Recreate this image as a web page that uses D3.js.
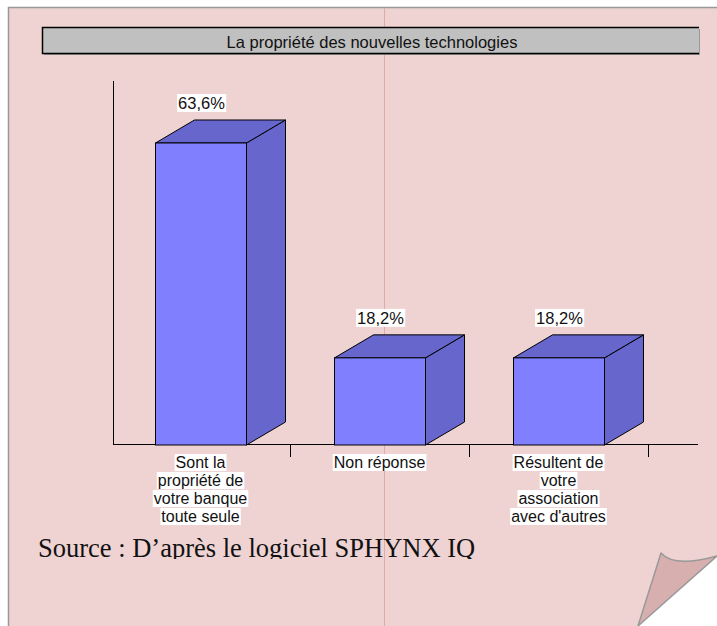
<!DOCTYPE html>
<html>
<head>
<meta charset="utf-8">
<script src="https://cdn.jsdelivr.net/npm/d3@7"></script>
<style>
  html, body { margin: 0; padding: 0; background: #fff; }
  svg { display: block; }
</style>
</head>
<body>
<script>
// chart data
const categories = [
  ["Sont la", "propriété de", "votre banque", "toute seule"],
  ["Non réponse"],
  ["Résultent de", "votre", "association", "avec d'autres"]
];
const values = [63.6, 18.2, 18.2];
const valueLabels = ["63,6%", "18,2%", "18,2%"];
const title = "La propriété des nouvelles technologies";
const source = "Source : D\u2019après le logiciel SPHYNX IQ";

const width = 717, height = 626;
const depthX = 39, depthY = -23;

const svg = d3.select("body").append("svg")
  .attr("width", width)
  .attr("height", height)
  .attr("font-family", "'Liberation Sans', Arial, sans-serif");

// page
svg.append("rect")
  .attr("x", 8).attr("y", 7)
  .attr("width", width - 8).attr("height", height - 7)
  .attr("fill", "#efd3d3");
svg.append("path")
  .attr("d", "M8.5," + height + "V7.5H" + width)
  .attr("fill", "none").attr("stroke", "#999").attr("stroke-width", 1.5);
svg.append("line")
  .attr("x1", 384.5).attr("x2", 384.5).attr("y1", 8).attr("y2", height)
  .attr("stroke", "#e2a9a9").attr("stroke-width", 1);

// title box
svg.append("rect")
  .attr("x", 44).attr("y", 29).attr("width", 656).attr("height", 26)
  .attr("fill", "#999");
svg.append("rect")
  .attr("x", 42).attr("y", 27).attr("width", 657).attr("height", 26)
  .attr("fill", "#c0c0c0");
svg.append("path")
  .attr("d", "M699,27.5H42.5V53.5H699")
  .attr("fill", "none").attr("stroke", "#000").attr("stroke-width", 1.5);
svg.append("text")
  .attr("x", 372).attr("y", 47.5)
  .attr("text-anchor", "middle")
  .attr("font-size", 16.5)
  .attr("fill", "#111")
  .text(title);

// scales
const x = d3.scaleBand()
  .domain(d3.range(values.length))
  .range([111, 648])
  .padding(0);

const y = d3.scaleLinear()
  .domain([0, 76.7])
  .range([444, 81]);

const barW = 91;

// axes
svg.append("line")
  .attr("x1", 113.5).attr("x2", 113.5)
  .attr("y1", y.range()[1]).attr("y2", y(0))
  .attr("stroke", "#000");
svg.append("line")
  .attr("x1", 113).attr("x2", 698)
  .attr("y1", y(0) + 0.5).attr("y2", y(0) + 0.5)
  .attr("stroke", "#000");
svg.selectAll(".tick")
  .data(d3.range(1, values.length + 1))
  .enter().append("line")
  .attr("x1", function(d) { return Math.round(x.range()[0] + d * x.bandwidth()) + 0.5; })
  .attr("x2", function(d) { return Math.round(x.range()[0] + d * x.bandwidth()) + 0.5; })
  .attr("y1", y(0)).attr("y2", y(0) + 13)
  .attr("stroke", "#000");

// 3d bars
const bar = svg.selectAll(".bar")
  .data(values)
  .enter().append("g")
  .attr("class", "bar");

function x0(i) { return Math.round(x(i) + x.bandwidth() / 2 - barW / 2) + 0.5; }

bar.append("path") // side
  .attr("d", function(d, i) {
    let a = x0(i) + barW, t = y(d), b = y(0) + 1;
    return "M" + a + "," + t + "L" + (a + depthX) + "," + (t + depthY) +
      "L" + (a + depthX) + "," + (b + depthY) + "L" + a + "," + b + "Z";
  })
  .attr("fill", "#6666cc").attr("stroke", "#000").attr("stroke-linejoin", "round");

bar.append("path") // top
  .attr("d", function(d, i) {
    let l = x0(i), t = y(d);
    return "M" + l + "," + t + "L" + (l + depthX) + "," + (t + depthY) +
      "L" + (l + barW + depthX) + "," + (t + depthY) + "L" + (l + barW) + "," + t + "Z";
  })
  .attr("fill", "#6666cc").attr("stroke", "#000").attr("stroke-linejoin", "round");

bar.append("rect") // front
  .attr("x", function(d, i) { return x0(i); })
  .attr("y", function(d) { return y(d); })
  .attr("width", barW)
  .attr("height", function(d) { return y(0) + 1 - y(d); })
  .attr("fill", "#8080ff").attr("stroke", "#000");

// value labels
const vl = svg.selectAll(".vlabel")
  .data(values)
  .enter().append("g")
  .attr("class", "vlabel");

vl.append("text")
  .attr("x", function(d, i) { return x(i) + x.bandwidth() / 2 + 1; })
  .attr("y", function(d) { return y(d) + depthY - 11; })
  .attr("text-anchor", "middle")
  .attr("font-size", 16.5)
  .attr("fill", "#111")
  .text(function(d, i) { return valueLabels[i]; });

// category labels
categories.forEach(function(lines, i) {
  lines.forEach(function(line, j) {
    svg.append("text")
      .attr("class", "lab")
      .attr("x", x(i) + x.bandwidth() / 2)
      .attr("y", y(0) + 24 + j * 18)
      .attr("text-anchor", "middle")
      .attr("font-size", 16)
      .attr("fill", "#111")
      .text(line);
  });
});

// white backgrounds behind labels
svg.selectAll("text.lab, .vlabel text").each(function() {
  let bb = this.getBBox();
  d3.select(this.parentNode).insert("rect", function() { return this; }.bind(this))
    .attr("x", bb.x - 1).attr("y", bb.y)
    .attr("width", bb.width + 2).attr("height", bb.height)
    .attr("fill", "#fff");
});

// source
svg.append("clipPath").attr("id", "srcclip")
  .append("rect").attr("x", 0).attr("y", 520).attr("width", width).attr("height", 39);
svg.append("text")
  .attr("x", 38).attr("y", 557)
  .attr("clip-path", "url(#srcclip)")
  .attr("font-family", "'Liberation Serif', 'Times New Roman', serif")
  .attr("font-size", 26.5)
  .attr("fill", "#111")
  .text(source);

// page curl
svg.append("path")
  .attr("d", "M638," + height + "L" + width + ",557V" + height + "Z")
  .attr("fill", "#fff");
svg.append("path")
  .attr("d", "M661,553Q674,568 717,556L638,626Z")
  .attr("fill", "#d8afaf").attr("stroke", "#999").attr("stroke-width", 1.5)
  .attr("stroke-linejoin", "round");
</script>
</body>
</html>
